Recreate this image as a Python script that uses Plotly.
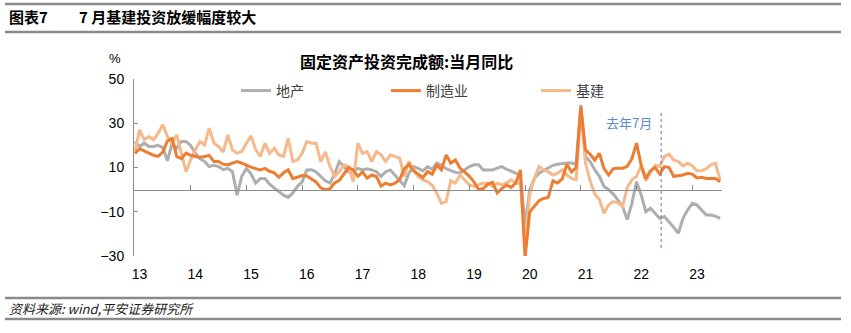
import plotly.graph_objects as go

# ---- data: monthly YoY (%), Jan 2013 .. Jul 2023 ----
year_labels = ["13", "14", "15", "16", "17", "18", "19", "20", "21", "22", "23"]

realestate = [
    21.7, 19.5, 21, 19.5, 19.5, 20, 19, 13, 21, 18.7, 21.7, 21.7,
    20, 16.4, 14, 12.7, 10.4, 11, 10.4, 9, 9.6, 8.1, -2.5, 6,
    9.6, 7, 3, 5, 5, 2.5, 0.7, -1, -2.5, -3.5, -1.5, 1.5,
    3.5, 8.9, 9, 8, 6, 4, 3, 7, 12.7, 10.4, 8, 8.5,
    9.6, 8.9, 9.4, 8.9, 8.1, 6, 8.1, 8.9, 6.5, 4.6, 1.8, 7.5,
    10.4, 9.6, 8.5, 10.4, 9.2, 12, 11, 9.5, 8.5, 7.8, 7.5, 8.9,
    10.4, 11.2, 11.2, 8.9, 8.9, 8.9, 9.7, 10.4, 9.2, 8.3, 7.5, 6,
    -16, 0, 5, 7.4, 8.5, 9.7, 11, 11.5, 11.9, 12, 12, 11.5,
    38.3, 15, 12.7, 9, 6, 1.4, 0, -2, -4.7, -7.7, -13.5, -6.2,
    3.6, -2.4, -10, -8.4, -10.7, -13, -12.2, -14.5, -17, -19.8, -13, -9.2,
    -6.2, -6.9, -9.2, -11.5, -11.5, -12, -13,
]

manufacturing = [
    16.4, 18.5, 17.5, 16.5, 15.5, 15, 17, 22, 23, 15, 14, 16.5,
    15.5, 15, 14.6, 15, 15.5, 12.7, 12.7, 11.5, 11.2, 12, 12.7, 12,
    11, 10.2, 9.5, 8.9, 9.6, 8.3, 7.6, 5.6, 7.6, 8.9, 5, 5.7,
    6.4, 6.2, 5, 3.5, 0.8, 0, 0.4, 3, 4.2, 7, 10, 8.9,
    6, 8, 5.2, 6.6, 5.9, 1.6, 2.9, 2.1, 2.9, 4.5, 9.5, 11.5,
    8.5, 7, 5.5, 8.1, 7, 11, 9, 15.7, 12, 13.4, 9.7, 8,
    6, 3.5, 0, 0.5, 2.5, 3.3, -1.5, 0.5, 2.1, 1, 3, 8.9,
    -31, -10, -7.7, -5, -4, -3.5, 4, 3, 4.8, 11.5, 8, 10,
    37.5, 18, 16, 13.4, 16.4, 9.5, 6.6, 9.5, 9.7, 9.7, 10.5, 14,
    21, 11, 5, 8.5, 10, 7, 10.4, 10, 6, 6.2, 6.6, 7.4,
    7, 5.3, 5.6, 5, 5.1, 5, 3.6,
]

infrastructure = [
    17.2, 27, 22.5, 24, 22.5, 25.5, 29.3, 24, 21, 24.7, 16.4, 8.1,
    13.4, 18, 21.7, 20.2, 27.8, 21, 19.5, 17, 24.7, 18, 16.4, 17.2,
    21, 24.3, 18, 15, 21, 16.4, 18.7, 15.7, 15, 23.2, 12.7, 13.4,
    16.4, 21.7, 21, 21, 12.7, 17, 10.4, 5.9, 8.1, 11.2, 10.4, 3.6,
    21, 16.4, 17.2, 12.7, 17.2, 15.7, 12.7, 15.7, 15, 14.2, 5.9, 12.7,
    8.9, 5.9, 4.4, 3.6, 2, -1.7, -6.2, -5.4, 4, 3, 6.6, 4.4,
    2.1, 1.4, 2.1, 2.9, 2.9, 1.4, 2.9, 2.1, 3, 4.4, 2.9, 3,
    -26, -2, 5, 10.4, 9, 8, 6.6, 7.4, 8.9, 6.6, 5.1, 4.5,
    36, 12, 4, -2, -4.5, -10.7, -6.9, -5.4, -6, -7.7, 1, 4.4,
    6, 10.8, 4, 8, 11, 10.5, 15, 16, 13.4, 12.7, 10.8, 11.9,
    10.8, 8.5, 8.5, 9.5, 11.2, 11.9, 4.4,
]

months = list(range(len(realestate)))          # 0 = Jan 2013
year_ticks = [12 * i for i in range(len(year_labels))]
marker_month = 113.3                           # "去年7月" reference line
y_ticks = [-30, -10, 10, 30, 50]

# ---- geometry helpers (pixels -> paper) ----
W, H = 851, 333
L, R, T, B = 134, 722, 79, 256


def px(x):
    return (x - L) / (R - L)


def py(y):
    return (B - y) / (B - T)


FONT = "Liberation Sans, Arial, Noto Sans CJK SC, sans-serif"
CJK = "Noto Sans CJK SC, Liberation Sans, sans-serif"

GRAY = "#AEAEAE"
ORANGE = "#ED7D31"
PEACH = "#F6B98C"

fig = go.Figure()
fig.add_trace(go.Scatter(x=months, y=realestate, name="地产", mode="lines",
                         line=dict(color=GRAY, width=3), legendrank=1))
fig.add_trace(go.Scatter(x=months, y=infrastructure, name="基建", mode="lines",
                         line=dict(color=PEACH, width=3), legendrank=3))
fig.add_trace(go.Scatter(x=months, y=manufacturing, name="制造业", mode="lines",
                         line=dict(color=ORANGE, width=3), legendrank=2))
# helper trace so the zero-line axis (x2) is drawn
fig.add_trace(go.Scatter(x=[months[0]], y=[None], xaxis="x2", yaxis="y",
                         showlegend=False, hoverinfo="skip", mode="lines"))

xr = [-0.2, 126.4]
fig.update_layout(
    width=W, height=H,
    margin=dict(l=L, r=W - R, t=T, b=H - B),
    paper_bgcolor="white", plot_bgcolor="white",
    font=dict(family=FONT, size=14, color="#000000"),
    showlegend=True,
    legend=dict(orientation="h", x=px(236), y=py(91), xanchor="left", yanchor="middle",
                font=dict(family=CJK, size=14, color="#404040"),
                bgcolor="rgba(0,0,0,0)", itemwidth=30, entrywidth=105,
                traceorder="normal"),
    xaxis=dict(range=xr, tickvals=[v + 1 for v in year_ticks], ticktext=year_labels,
               showline=False, showgrid=False, zeroline=False, ticks="",
               tickfont=dict(family=FONT, size=14, color="#000000"),
               ticklabelstandoff=8),
    xaxis2=dict(range=xr, overlaying="x", anchor="free", position=(0 - (-30)) / 80,
                matches="x", showline=True, linecolor="#8C8C8C", linewidth=1,
                ticks="inside", ticklen=5, tickcolor="#8C8C8C", tickvals=year_ticks,
                showticklabels=False, showgrid=False, zeroline=False),
    yaxis=dict(range=[-30, 50], tickvals=y_ticks, showline=True, linecolor="#8C8C8C",
               linewidth=1, ticks="inside", ticklen=4, tickcolor="#8C8C8C",
               showgrid=False, zeroline=False,
               tickfont=dict(family=FONT, size=14, color="#000000"),
               ticklabelstandoff=6),
)

# reference line "去年7月"
fig.add_shape(type="line", xref="x", yref="y", x0=marker_month, x1=marker_month,
              y0=-26.4, y1=36, line=dict(color="#4A78C2", width=1, dash="dot"))
fig.add_annotation(xref="x", yref="y", x=marker_month - 7, y=30.5, text="去年7月",
                   showarrow=False, yanchor="middle",
                   font=dict(family=CJK, size=13, color="#5B8CCB"))


def note(x, y, text, size, anchor="center", family=CJK, color="#000000"):
    fig.add_annotation(xref="paper", yref="paper", x=px(x), y=py(y), text=text,
                       xanchor=anchor, yanchor="middle", showarrow=False,
                       font=dict(family=family, size=size, color=color))


# chart title and unit
note(406, 61, "<b>固定资产投资完成额:当月同比</b>", 16)
note(115, 58, "%", 13, family=FONT)
# header
note(7, 17, "<b>图表7</b>", 15, anchor="left")
note(77, 17, "<b>7 月基建投资放缓幅度较大</b>", 15, anchor="left")
# footer
note(7, 308, "<i>资料来源: wind,平安证券研究所</i>", 13, anchor="left", color="#222222")

for yy in (4, 32, 298, 319):
    fig.add_shape(type="line", xref="paper", yref="paper", x0=px(5), x1=px(841),
                  y0=py(yy), y1=py(yy), line=dict(color="#8A8A8A", width=2.5))

fig.write_html("out.html")
